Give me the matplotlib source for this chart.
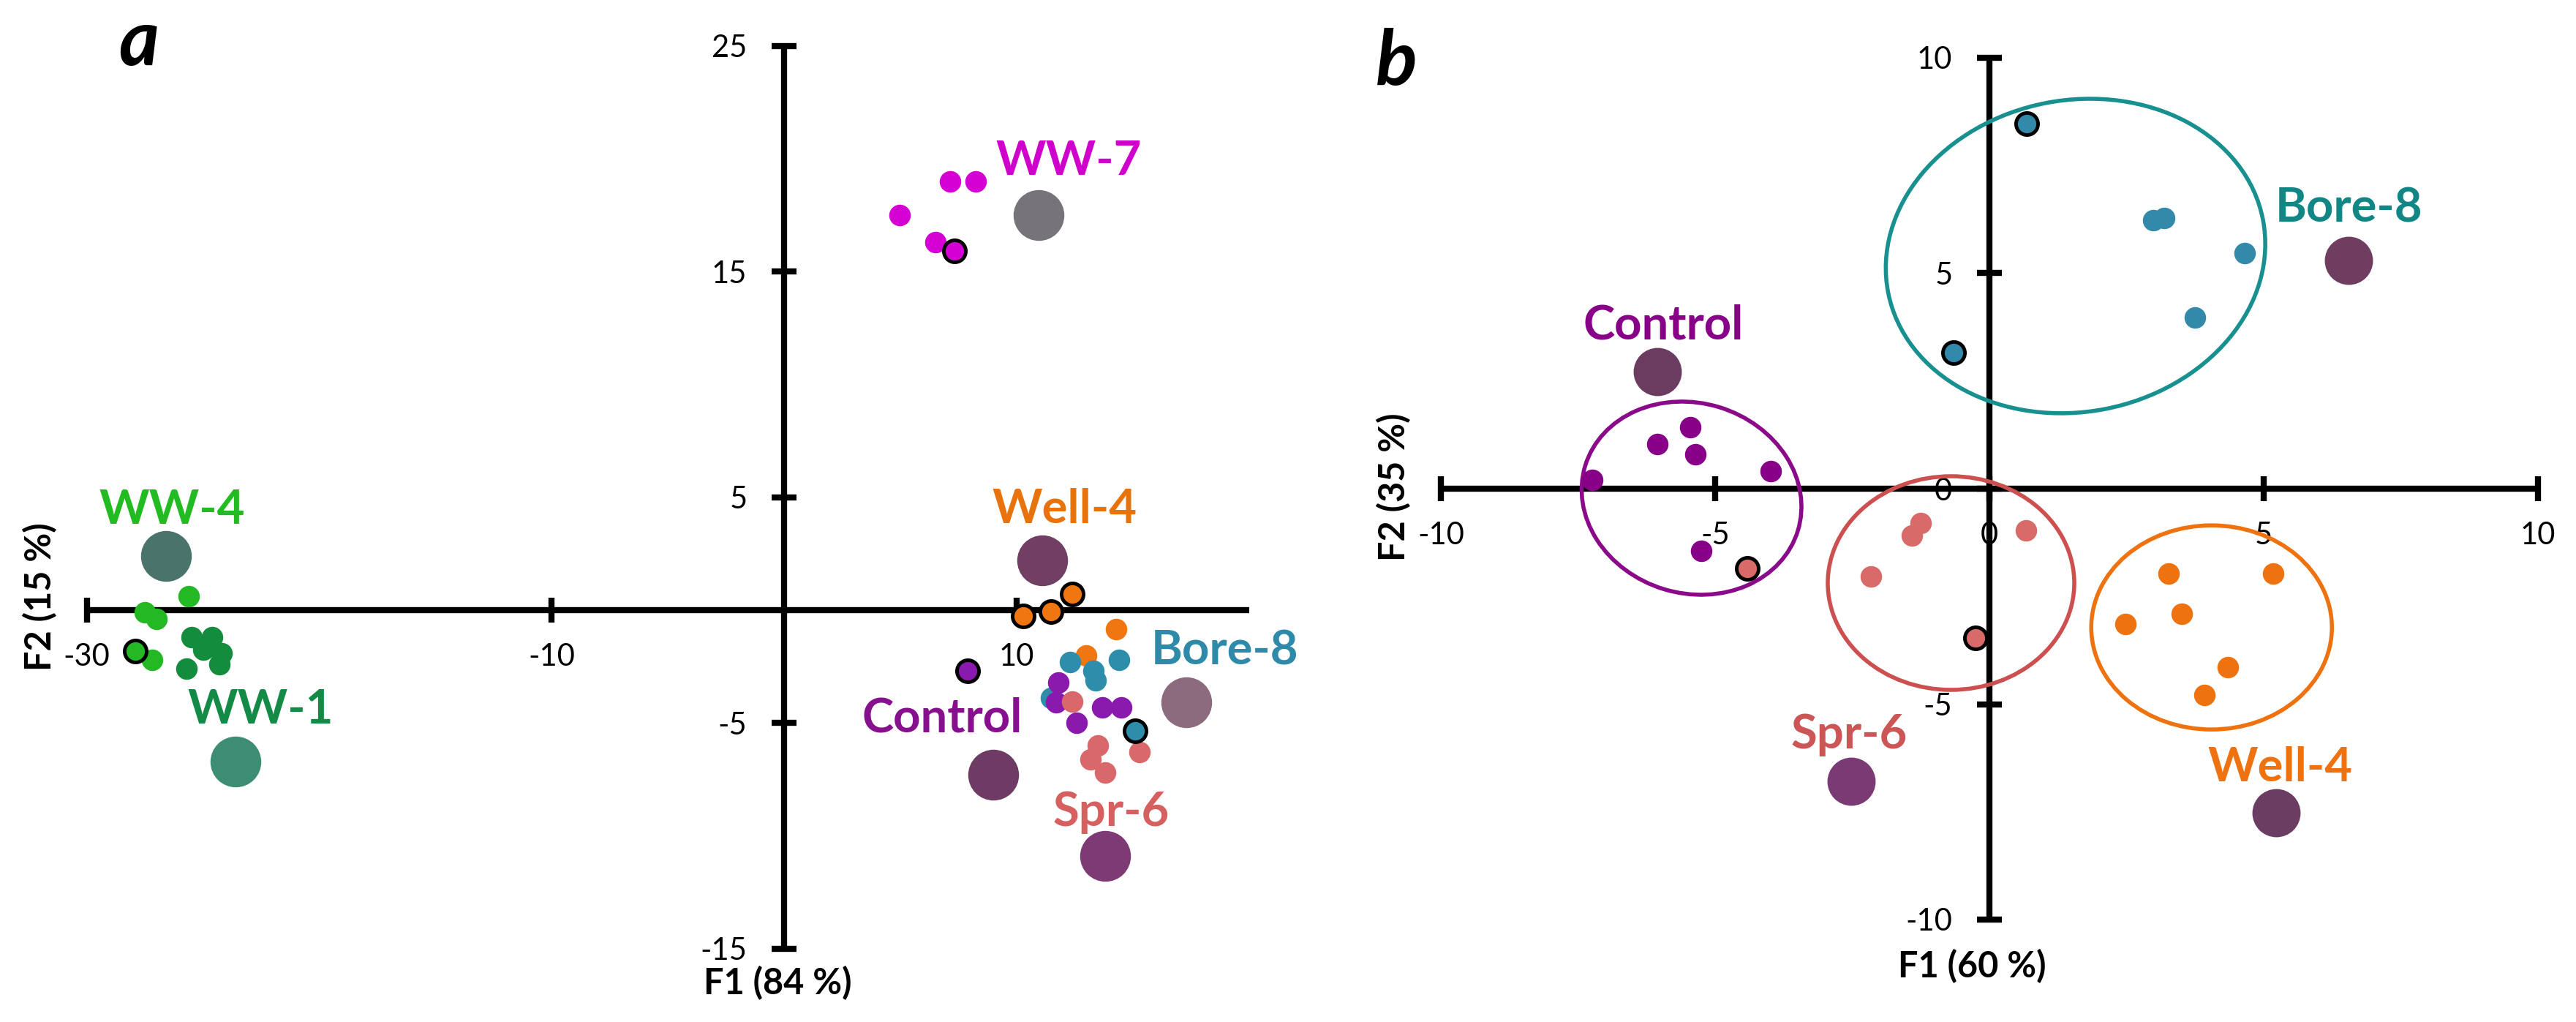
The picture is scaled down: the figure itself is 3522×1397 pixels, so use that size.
import matplotlib
matplotlib.use("Agg")
import matplotlib.pyplot as plt
from matplotlib.patches import Ellipse
from matplotlib.transforms import ScaledTranslation

plt.rcParams['font.family'] = ['Lato', 'DejaVu Sans']
plt.rcParams['axes.unicode_minus'] = False

W, H = 3522, 1397

# ---------------- panel a : F1 (84 %) / F2 (15 %) ----------------
A_GROUPS = ["WW-4", "WW-1", "WW-7", "Well-4", "Bore-8", "Control", "Spr-6"]

a_f1 = {
    "WW-4": [-25.6, -27.5, -27.0, -27.9, -27.2],
    "WW-1": [-25.5, -24.6, -25.0, -24.2, -25.7, -24.3],
    "WW-7": [7.15, 8.25, 4.97, 6.5, 7.33],
    "Well-4": [10.3, 11.5, 12.4, 14.3, 13.0],
    "Bore-8": [12.3, 13.3, 13.4, 14.4, 11.5, 15.1],
    "Control": [7.9, 11.8, 11.7, 13.7, 14.5, 12.6],
    "Spr-6": [12.4, 13.5, 13.2, 13.8, 15.3],
}
a_f2 = {
    "WW-4": [0.6, -0.1, -0.4, -1.8, -2.2],
    "WW-1": [-1.2, -1.2, -1.75, -1.9, -2.6, -2.4],
    "WW-7": [19.0, 19.0, 17.5, 16.3, 15.9],
    "Well-4": [-0.26, -0.07, 0.7, -0.85, -2.0],
    "Bore-8": [-2.3, -2.7, -3.1, -2.2, -3.9, -5.35],
    "Control": [-2.7, -3.2, -4.1, -4.3, -4.3, -5.0],
    "Spr-6": [-4.05, -6.0, -6.6, -7.2, -6.3],
}
a_outlined = {
    "WW-4": [0, 0, 0, 1, 0],
    "WW-1": [0, 0, 0, 0, 0, 0],
    "WW-7": [0, 0, 0, 0, 1],
    "Well-4": [1, 1, 1, 0, 0],
    "Bore-8": [0, 0, 0, 0, 0, 1],
    "Control": [1, 0, 0, 0, 0, 0],
    "Spr-6": [0, 0, 0, 0, 0],
}
a_centroid_f1 = [-26.6, -23.6, 10.95, 11.1, 17.3, 9.0, 13.8]
a_centroid_f2 = [2.4, -6.7, 17.5, 2.2, -4.1, -7.3, -10.9]
a_xticks = [-30, -10, 10]
a_yticks = [-15, -5, 5, 15, 25]

# ---------------- panel b : F1 (60 %) / F2 (35 %) ----------------
B_GROUPS = ["Bore-8", "Control", "Spr-6", "Well-4"]

b_f1 = {
    "Bore-8": [0.68, 2.99, 3.19, 4.65, 3.75, -0.65],
    "Control": [-7.24, -6.05, -5.45, -5.36, -3.99, -5.25],
    "Spr-6": [-1.26, -1.41, -2.16, -4.41, -0.25, 0.67],
    "Well-4": [3.27, 5.17, 3.51, 2.48, 4.35, 3.92],
}
b_f2 = {
    "Bore-8": [8.47, 6.23, 6.28, 5.47, 3.97, 3.16],
    "Control": [0.2, 1.04, 1.43, 0.8, 0.41, -1.44],
    "Spr-6": [-0.8, -1.09, -2.04, -1.85, -3.47, -0.96],
    "Well-4": [-1.97, -1.97, -2.9, -3.14, -4.14, -4.79],
}
b_outlined = {
    "Bore-8": [1, 0, 0, 0, 0, 1],
    "Control": [0, 0, 0, 0, 0, 0],
    "Spr-6": [0, 0, 0, 1, 1, 0],
    "Well-4": [0, 0, 0, 0, 0, 0],
}
b_centroid_f1 = [6.55, -6.05, -2.52, 5.23]
b_centroid_f2 = [5.3, 2.72, -6.79, -7.52]
# group ellipses: centre (F1, F2)
b_ellipse_f1 = [1.57, -5.43, -0.7, 4.05]
b_ellipse_f2 = [5.4, -0.22, -2.19, -3.22]
b_ticks = [-10, -5, 0, 5, 10]

# ---------------- styles ----------------
a_point_col = {"WW-4": "#25b825", "WW-1": "#138c3e", "WW-7": "#d400d4",
               "Well-4": "#ef7610", "Bore-8": "#2e8dab", "Control": "#8a1aae",
               "Spr-6": "#d8686a"}
a_label_col = {"WW-4": "#22bb22", "WW-1": "#138a45", "WW-7": "#d000cc",
               "Well-4": "#e8720c", "Bore-8": "#2e8aa8", "Control": "#86108e",
               "Spr-6": "#d46060"}
a_centroid_col = ["#4a736c", "#3d8c74", "#76737a", "#713f63", "#8d6b7e",
                  "#6d3b63", "#7e3a75"]
a_label_off = {"WW-4": (6.5, 32), "WW-1": (24.5, 37.5), "WW-7": (30, 40),
               "Well-4": (22, 37), "Bore-8": (38, 37.5), "Control": (-50, 42),
               "Spr-6": (6, 30)}

b_point_col = {"Bore-8": "#3389a9", "Control": "#880088", "Spr-6": "#d86a6a",
               "Well-4": "#ee7210"}
b_label_col = {"Bore-8": "#128585", "Control": "#880088", "Spr-6": "#cc5555",
               "Well-4": "#ee7210"}
b_ellipse_col = ["#189090", "#8a0a8a", "#cc5050", "#ee7210"]
b_centroid_col = ["#6e3d5f", "#6b3c60", "#7a3a73", "#6c3d62"]
b_label_off = {"Bore-8": (0, 37.5), "Control": (6, 32), "Spr-6": (-2, 32),
               "Well-4": (3.6, 31)}
# ellipse size in pixels (full axes) and tilt
b_ellipse_shape = [(522, 426, 11), (304, 260, -17), (337, 292, 0), (329, 279, 0)]


def place_axes(fig, xlim, ylim, x0, y0, sx, sy):
    # x0, y0: pixel of the data origin (from top-left); sx, sy: px per unit
    left = x0 + xlim[0] * sx
    right = x0 + xlim[1] * sx
    top = y0 - ylim[1] * sy
    bottom = y0 - ylim[0] * sy
    ax = fig.add_axes([left / W, 1 - bottom / H, (right - left) / W, (bottom - top) / H])
    ax.set_xlim(xlim)
    ax.set_ylim(ylim)
    ax.patch.set_alpha(0)
    return ax


def cross_axes(ax, xbounds, ybounds, xticks, yticks):
    for side in ["top", "right"]:
        ax.spines[side].set_visible(False)
    for side in ["left", "bottom"]:
        ax.spines[side].set_position("zero")
        ax.spines[side].set_linewidth(6)
        ax.spines[side].set_capstyle("butt")
    ax.spines["bottom"].set_bounds(*xbounds)
    ax.spines["left"].set_bounds(*ybounds)
    ax.set_xticks(xticks)
    ax.set_yticks(yticks)
    ax.set_xticklabels([str(t) for t in xticks])
    ax.set_yticklabels([str(t) for t in yticks])
    ax.tick_params(direction="inout", length=25, width=6, labelsize=30,
                   colors="black")
    ax.tick_params(axis="x", pad=20)
    ax.tick_params(axis="y", pad=24)


def draw_group(ax, xs, ys, outl, col):
    plain_x = [x for x, o in zip(xs, outl) if not o]
    plain_y = [y for y, o in zip(ys, outl) if not o]
    ring_x = [x for x, o in zip(xs, outl) if o]
    ring_y = [y for y, o in zip(ys, outl) if o]
    ax.scatter(plain_x, plain_y, s=450, color=col, linewidths=0, zorder=4,
               clip_on=False)
    ax.scatter(ring_x, ring_y, s=470, color=col, edgecolors="black",
               linewidths=3.5, zorder=5, clip_on=False)


fig = plt.figure(figsize=(W / 100, H / 100), dpi=100)

# ---- panel a
ax = place_axes(fig, (-33, 22), (-17, 27), 1072, 834, 31.78, 30.85)
cross_axes(ax, (-30, 20), (-15, 25), a_xticks, a_yticks)
for i, g in enumerate(A_GROUPS):
    draw_group(ax, a_f1[g], a_f2[g], a_outlined[g], a_point_col[g])
    ax.scatter(a_centroid_f1[i], a_centroid_f2[i], s=2500,
               color=a_centroid_col[i], linewidths=0, zorder=4, clip_on=False)
    ax.annotate(g, xy=(a_centroid_f1[i], a_centroid_f2[i]), xytext=a_label_off[g],
                textcoords="offset points", ha="center", va="baseline",
                fontsize=47, fontweight="bold", color=a_label_col[g], zorder=6)

# ---- panel b
bx = place_axes(fig, (-10.8, 10.5), (-11, 11), 2720, 668, 75, 58.9)
cross_axes(bx, (-10, 10), (-10, 10), b_ticks, b_ticks)
for i, g in enumerate(B_GROUPS):
    w, h, ang = b_ellipse_shape[i]
    tr = fig.dpi_scale_trans + ScaledTranslation(b_ellipse_f1[i], b_ellipse_f2[i],
                                                 bx.transData)
    bx.add_patch(Ellipse((0, 0), w / 100, h / 100, angle=ang, transform=tr,
                         fill=False, edgecolor=b_ellipse_col[i], linewidth=4,
                         zorder=3))
    draw_group(bx, b_f1[g], b_f2[g], b_outlined[g], b_point_col[g])
    bx.scatter(b_centroid_f1[i], b_centroid_f2[i], s=2250,
               color=b_centroid_col[i], linewidths=0, zorder=4, clip_on=False)
    bx.annotate(g, xy=(b_centroid_f1[i], b_centroid_f2[i]), xytext=b_label_off[g],
                textcoords="offset points", ha="center", va="baseline",
                fontsize=47, fontweight="bold", color=b_label_col[g], zorder=6)

# axis titles and panel letters
fig.text(55 / W, 1 - 816 / H, "F2 (15 %)", rotation=90, ha="center", va="center",
         fontsize=35, fontweight="bold")
fig.text(1063 / W, 1 - 1344 / H, "F1 (84 %)", ha="center", va="center",
         fontsize=35, fontweight="bold")
fig.text(1906 / W, 1 - 666 / H, "F2 (35 %)", rotation=90, ha="center", va="center",
         fontsize=35, fontweight="bold")
fig.text(2696 / W, 1 - 1321 / H, "F1 (60 %)", ha="center", va="center",
         fontsize=35, fontweight="bold")
fig.text(190 / W, 1 - 89 / H, "a", ha="center", va="baseline", fontsize=76,
         fontweight="bold", fontstyle="italic")
fig.text(1909 / W, 1 - 116 / H, "b", ha="center", va="baseline", fontsize=76,
         fontweight="bold", fontstyle="italic")

fig.savefig("out.png", dpi=100, facecolor="white")
